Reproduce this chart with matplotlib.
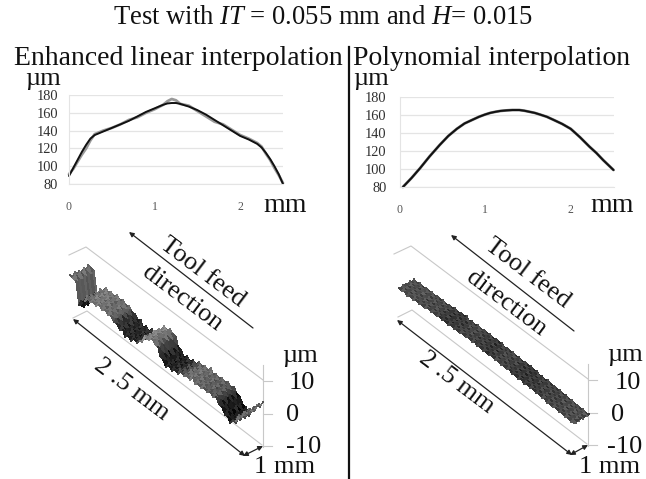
import matplotlib
matplotlib.use("Agg")
import matplotlib.pyplot as plt
import numpy as np

plt.rcParams["font.family"] = ["Liberation Serif", "DejaVu Serif"]
plt.rcParams["mathtext.fontset"] = "custom"
plt.rcParams["mathtext.rm"] = "Liberation Serif"
plt.rcParams["mathtext.it"] = "Liberation Serif:italic"

W, H = 646, 479

# profile charts
left_x = [0, 0.05, 0.1, 0.15, 0.2, 0.25, 0.3, 0.4, 0.5, 0.6, 0.7, 0.8, 0.9, 1.0, 1.1, 1.15, 1.2, 1.25, 1.3, 1.4,
          1.5, 1.6, 1.7, 1.8, 1.9, 2.0, 2.1, 2.2, 2.25, 2.3, 2.35, 2.4, 2.45, 2.5]
left_fit = [89, 98, 107, 116, 124, 131, 135, 139, 143, 147, 151, 156, 161, 165, 169, 170.5, 171, 171, 170, 167,
            163, 158, 152, 146, 140, 134, 130, 125, 121, 115, 108, 100, 91, 80]
left_meas = [91, 97, 105, 113, 120, 129, 136, 140, 143, 147, 152, 155, 160, 164, 169, 173, 175.5, 174, 170, 168,
             162, 156, 150, 147, 141, 135, 131, 126, 122, 114, 107, 98, 90, 81]
right_x = [0.04, 0.14, 0.24, 0.35, 0.47, 0.57, 0.67, 0.76, 0.85, 0.93, 1.0, 1.06, 1.12, 1.18, 1.25, 1.32, 1.4, 1.46,
           1.52, 1.58, 1.64, 1.72, 1.8, 1.9, 2.0, 2.11, 2.22, 2.3, 2.38, 2.44, 2.5]
right_fit = [80, 90, 101, 114, 127, 137, 145, 151, 155, 158.5, 161, 162.8, 164, 165, 165.6, 166, 166, 165.2,
             164, 162.8, 161, 158.5, 155, 150.5, 145, 135.5, 125, 118, 110, 104.5, 99]
y_ticks = [80, 100, 120, 140, 160, 180]
x_ticks = [0, 1, 2]

# surface plots: height (um) along the 2.5 mm length, with grey level per strip
left_z = [4, 4.5, 3.5, -2, -2.5, 0.5, 1, 1.2, 1.4, 1.6,
          1.8, 1.8, 1.8, 1.6, 1.2, 0.8, 0.2, -0.2, -0.6, -0.8,
          -0.8, -0.8, -0.6, -0.4, 0.5, 2, 3, 3.6, 3.8, 3.6,
          2.6, 1.2, 0, -0.6, -0.6, -0.4, -0.2, 0, 0.2, 0.4,
          0.6, 0.8, 1, 1, 1, 1, 1, 1, 1, 1,
          0.8, 0.4, -0.6, -1.8, -2.6, -2.8, -2.4, -1, 0.6, 2, 3.2]
left_shade = [95, 100, 90, 30, 25, 100, 110, 115, 115, 110,
              110, 105, 105, 100, 95, 60, 45, 40, 35, 35,
              35, 35, 40, 60, 125, 130, 125, 120, 110, 95,
              60, 35, 28, 28, 30, 35, 40, 60, 80, 95,
              105, 105, 100, 100, 95, 95, 90, 90, 85, 80,
              60, 30, 25, 22, 25, 35, 70, 95, 100, 100]
right_z = [0, 0, 0.1, 0.1, 0.2, 0.2, 0.2, 0.3, 0.3, 0.4,
           0.4, 0.5, 0.5, 0.6, 0.6, 0.7, 0.7, 0.7, 0.8, 0.8,
           0.8, 0.8, 0.9, 0.9, 0.9, 0.9, 1, 1, 1, 1,
           0.9, 0.9, 0.9, 0.9, 0.8, 0.8, 0.8, 0.8, 0.7, 0.7,
           0.7, 0.6, 0.6, 0.5, 0.5, 0.4, 0.4, 0.3, 0.2, 0.2,
           0.1, 0.1, 0, 0, -0.1, -0.1, -0.2, -0.2, -0.3, -0.3, -0.3]
right_shade = [75, 75, 72, 72, 75, 75, 72, 72, 70, 70,
               68, 68, 65, 60, 55, 52, 50, 50, 55, 55,
               60, 62, 65, 65, 62, 60, 58, 55, 55, 52,
               52, 55, 58, 62, 65, 62, 60, 58, 55, 52,
               52, 50, 50, 52, 52, 55, 58, 58, 60, 62,
               62, 65, 65, 68, 68, 70, 70, 72, 72, 75]
surf_wid = [0, 0.125, 0.25, 0.375, 0.5, 0.625, 0.75, 0.875, 1]
mark_z = [0.5, -0.4, 0.7, -0.6, 0.3, -0.5, 0.6, -0.3]
mark_shade = [10, -8, 14, -14, 6, -10, 16, -6]
row_shade = [-4, 6, -6, 8, -8, 6, -4, 4]


def surface(ax, origin, z, shade, mark_amp, wid):
    # oblique projection of the length / width / height grid to image pixels
    lens = np.linspace(0, 2.5, len(z))
    wids = np.array(surf_wid) * wid
    ll, ww = np.meshgrid(lens, wids)
    zz = np.tile(np.array(z, dtype=float), (len(wids), 1))
    for i in range(len(wids)):
        for j in range(len(lens)):
            zz[i, j] += mark_amp * mark_z[(i * 3 + j) % len(mark_z)]
    px = origin[0] + ll * 70 - ww * 18
    py = origin[1] + ll * 53.5 + ww * 10 - zz * 3.3
    cc = np.tile(np.array(shade, dtype=float), (len(wids) - 1, 1))
    for i in range(len(wids) - 1):
        for j in range(len(shade)):
            cc[i, j] += mark_shade[(i * 3 + j) % len(mark_shade)] + row_shade[i]
    ax.pcolormesh(px, py, cc, cmap="gray", vmin=0, vmax=255, shading="flat", zorder=3,
                  edgecolors="face", linewidth=0.2)


def profile(rect, series, tick_x, ypad):
    l, t, w, h = rect
    ax = fig.add_axes([l / W, 1 - (t + h) / H, w / W, h / H], facecolor="none")
    for xs, ys, col, lw in series:
        ax.plot(xs, ys, color=col, lw=lw, solid_capstyle="round", clip_on=False)
    ax.set_xlim(0, 2.5)
    ax.set_ylim(80, 180)
    ax.set_xticks(tick_x)
    ax.set_yticks(y_ticks)
    ax.grid(axis="y", color="#e4e4e4", lw=0.9)
    ax.set_axisbelow(True)
    for s in ["top", "right"]:
        ax.spines[s].set_visible(False)
    for s in ["left", "bottom"]:
        ax.spines[s].set_color("#e4e4e4")
    ax.tick_params(length=0, labelsize=10.4, colors="#303030")
    ax.tick_params(axis="x", pad=12, labelcolor="#555555", labelsize=8.5)
    ax.tick_params(axis="y", pad=ypad)


def frame(ax, dx, dy):
    # grey box lines and z axis of one surface plot
    g = dict(color="#c8c8c8", lw=0.8, zorder=1)
    ax.plot([69 + dx, 86 + dx, 263 + dx], [255 + dy, 247 + dy, 380 + dy], **g)
    ax.plot([73 + dx, 87 + dx, 262 + dx], [318 + dy, 311 + dy, 445 + dy], **g)
    ax.plot([263 + dx, 263 + dx], [365 + dy, 447 + dy], **g)
    for ty in [381, 414, 446]:
        ax.plot([263 + dx, 272 + dx], [ty + dy, ty + dy], **g)


def arrow(ax, a, b, style):
    ax.annotate("", xy=b, xytext=a, zorder=4,
                arrowprops=dict(arrowstyle=style, color="#222222", lw=0.9, shrinkA=0, shrinkB=0,
                                mutation_scale=7))


fig = plt.figure(figsize=(W / 100, H / 100), dpi=100)
bg = fig.add_axes([0, 0, 1, 1])
bg.set_xlim(0, W)
bg.set_ylim(H, 0)
bg.axis("off")

txt = dict(ha="center", va="center", fontsize=20, color="#111111")
bg.text(323, 17, r"Test with $\mathit{IT}$ = 0.055 mm and $\mathit{H}$= 0.015",
        ha="center", va="center", fontsize=19.2, color="#111111")
bg.text(178, 58, "Enhanced linear interpolation", **txt)
bg.text(492, 58, "Polynomial interpolation", **txt)
bg.text(43, 79, "µm", ha="center", va="center", fontsize=19, color="#111111")
bg.text(371, 79, "µm", ha="center", va="center", fontsize=19, color="#111111")
bg.text(285, 205, "mm", **txt)
bg.text(612, 205, "mm", **txt)
bg.plot([349, 349], [47, 479], color="#111111", lw=1.6)

profile((69, 95, 214, 89), [(left_x, left_meas, "#999999", 2.0), (left_x, left_fit, "#111111", 1.4)], x_ticks, 8)
profile((399.5, 97.5, 214, 89.5), [(right_x, right_fit, "#777777", 2.0), (right_x, right_fit, "#111111", 1.4)], x_ticks, 9.5)

frame(bg, 0, 0)
frame(bg, 325, -1)
surface(bg, (88, 280), left_z, left_shade, 0.8, 1.0)
surface(bg, (414, 280), right_z, right_shade, 0.45, 0.85)

arrow(bg, (253, 328), (129, 232), "-|>")
arrow(bg, (574, 331), (451, 235), "-|>")
arrow(bg, (73, 319), (245, 456), "<|-|>")
arrow(bg, (397, 320), (572, 455), "<|-|>")
arrow(bg, (243, 456), (263, 446), "<|-|>")
arrow(bg, (570, 455), (588, 445), "<|-|>")

rot = dict(rotation=-37, rotation_mode="anchor", ha="center", va="center", fontsize=19, color="#111111")
bg.text(203, 272, "Tool feed", **rot)
bg.text(182, 298, "direction", **rot)
bg.text(132, 390, "2 .5 mm", **rot)
bg.text(528, 273, "Tool feed", **rot)
bg.text(506, 303, "direction", **rot)
bg.text(457, 383, "2 .5 mm", **rot)

z_labels = [(300, 356, "µm"), (302, 383, "10"), (293, 415, "0"), (304, 447, "-10"), (285, 467, "1 mm"),
            (625, 355, "µm"), (628, 383, "10"), (618, 415, "0"), (625, 447, "-10"), (610, 467, "1 mm")]
for x, y, s in z_labels:
    bg.text(x, y, s, ha="center", va="center", fontsize=19, color="#111111")

fig.savefig("out.png", dpi=100)
